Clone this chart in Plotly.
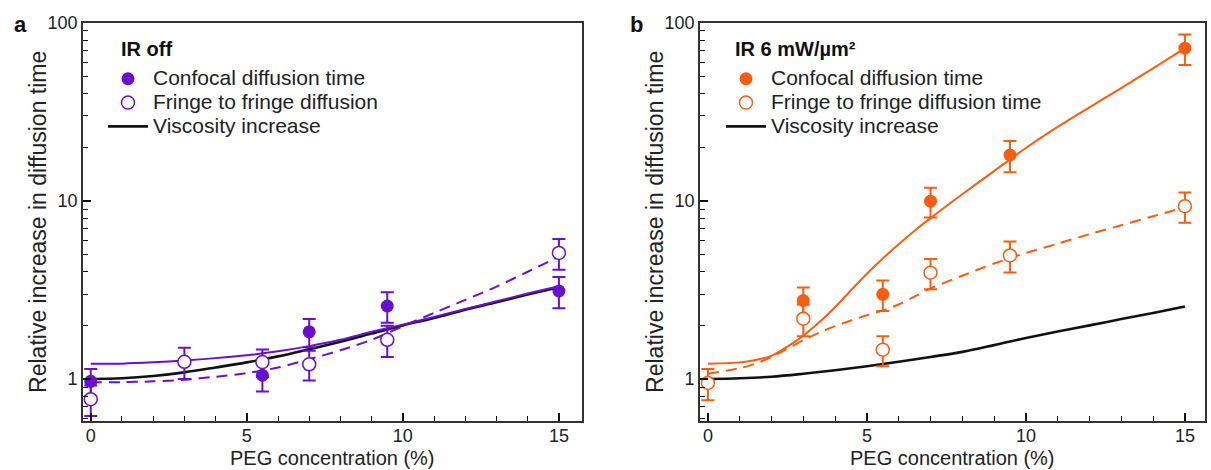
import plotly.graph_objects as go

# ---------------- data ----------------
# Panel a: IR off
a_conf_x = [0, 5.5, 7, 9.5, 15]
a_conf_y = [0.97, 1.05, 1.84, 2.57, 3.12]
a_conf_err = [0.17, 0.20, 0.33, 0.50, 0.62]

a_frin_x = [0, 3, 5.5, 7, 9.5, 15]
a_frin_y = [0.77, 1.25, 1.245, 1.21, 1.66, 5.1]
a_frin_err = [0.15, 0.25, 0.22, 0.23, 0.33, 1.0]

curve_x = [0, 1, 2, 3, 4, 5, 6, 7, 8, 9, 10, 11, 12, 13, 14, 15]
a_visc_y = [1.0, 1.01, 1.04, 1.09, 1.16, 1.24, 1.34, 1.47, 1.62, 1.80, 2.0, 2.2, 2.45, 2.7, 2.98, 3.28]
a_conf_fit = [1.22, 1.22, 1.24, 1.27, 1.31, 1.36, 1.43, 1.53, 1.66, 1.84, 2.02, 2.23, 2.47, 2.73, 3.02, 3.32]
a_frin_fit = [0.96, 0.96, 0.97, 0.99, 1.03, 1.08, 1.16, 1.29, 1.45, 1.66, 1.98, 2.35, 2.78, 3.3, 4.0, 4.86]

# Panel b: IR 6 mW/µm²
b_conf_x = [3, 5.5, 7, 9.5, 15]
b_conf_y = [2.76, 2.99, 9.96, 18.1, 72.0]
b_conf_err = [0.5, 0.58, 1.9, 3.6, 14.0]

b_frin_x = [0, 3, 5.5, 7, 9.5, 15]
b_frin_y = [0.95, 2.18, 1.46, 3.95, 4.94, 9.33]
b_frin_err = [0.19, 0.44, 0.28, 0.76, 0.98, 1.8]

b_visc_y = [1.0, 1.01, 1.03, 1.07, 1.12, 1.18, 1.25, 1.33, 1.42, 1.55, 1.7, 1.85, 2.0, 2.17, 2.35, 2.55]
b_fit_x = [0, 1, 1.5, 2, 2.5, 3, 3.5, 4, 4.5, 5, 5.5, 6, 6.5, 7, 8, 9, 10, 11, 12, 13, 14, 15]
b_conf_fit = [1.22, 1.24, 1.28, 1.35, 1.52, 1.75, 2.08, 2.53, 3.15, 3.9, 4.75, 5.7, 6.8, 8.0, 10.9, 14.7,
              19.8, 26.0, 33.5, 43.0, 55.5, 72.0]
b_frin_fit = [1.07, 1.15, 1.22, 1.33, 1.48, 1.65, 1.82, 1.98, 2.13, 2.28, 2.42, 2.62, 2.9, 3.22, 3.8, 4.45,
              5.1, 5.75, 6.5, 7.3, 8.2, 9.2]

x_ticks = [0, 5, 10, 15]
y_ticks = [1, 10, 100]
y_ticktext = ["1", "10", "100"]

# ---------------- style ----------------
PURPLE = "#6a0fd2"
ORANGE = "#f95d0f"
BLACK = "#111111"
FONT = "Liberation Sans, Arial, sans-serif"
TEXT = "#222222"
W, H = 1211, 470

fig = go.Figure()


def legend_label(s):
    return f"<span style='font-size:21px'>{s}</span>"


def add_panel(xa, ya, legend, color, conf, frin, visc_x, visc_y, fit_x, conf_fit, frin_fit, frin_name):
    cx, cy, ce = conf
    fx, fy, fe = frin
    fig.add_trace(go.Scatter(x=visc_x, y=visc_y, mode="lines",
                             line=dict(color=BLACK, width=2.6, shape="spline"),
                             name=legend_label("Viscosity increase"), legend=legend, legendrank=3,
                             xaxis=xa, yaxis=ya))
    fig.add_trace(go.Scatter(x=fit_x, y=conf_fit, mode="lines",
                             line=dict(color=color, width=2, shape="spline", smoothing=0.8),
                             showlegend=False, xaxis=xa, yaxis=ya))
    fig.add_trace(go.Scatter(x=fit_x, y=frin_fit, mode="lines",
                             line=dict(color=color, width=2, dash="11px,7px", shape="spline", smoothing=0.8),
                             showlegend=False, xaxis=xa, yaxis=ya))
    fig.add_trace(go.Scatter(x=cx, y=cy, mode="markers",
                             marker=dict(symbol="circle", size=13, color=color, line=dict(width=0)),
                             error_y=dict(type="data", array=ce, color=color, thickness=2, width=6.5),
                             name=legend_label("Confocal diffusion time"), legend=legend, legendrank=1,
                             xaxis=xa, yaxis=ya))
    fig.add_trace(go.Scatter(x=fx, y=fy, mode="markers",
                             marker=dict(symbol="circle", size=13, color="white", line=dict(width=1.5, color=color)),
                             error_y=dict(type="data", array=fe, color=color, thickness=2, width=6.5),
                             name=legend_label(frin_name), legend=legend, legendrank=2,
                             xaxis=xa, yaxis=ya))


add_panel("x", "y", "legend", PURPLE,
          (a_conf_x, a_conf_y, a_conf_err), (a_frin_x, a_frin_y, a_frin_err),
          curve_x, a_visc_y, curve_x, a_conf_fit, a_frin_fit, "Fringe to fringe diffusion")
add_panel("x2", "y2", "legend2", ORANGE,
          (b_conf_x, b_conf_y, b_conf_err), (b_frin_x, b_frin_y, b_frin_err),
          curve_x, b_visc_y, b_fit_x, b_conf_fit, b_frin_fit, "Fringe to fringe diffusion time")

minor_y = [0.6, 0.7, 0.8, 0.9] + [v for v in range(2, 10)] + [v * 10 for v in range(2, 10)]

Y_DOMAIN = [0.1064, 0.9723]
X1_DOMAIN = [0.0685, 0.4806]
X2_DOMAIN = [0.578, 0.995]

xaxis_common = dict(
    tickvals=x_ticks, ticks="inside", ticklen=8, tickwidth=1.5, tickcolor=BLACK,
    minor=dict(ticks="inside", ticklen=5, tickwidth=1.2, dtick=1, tickcolor=BLACK),
    showline=True, linewidth=1.5, linecolor="#333333", mirror=True, showgrid=False, zeroline=False,
    tickfont=dict(family=FONT, size=18, color=TEXT), ticklabelstandoff=-2,
)
yaxis_common = dict(
    type="log", range=[-0.236, 2.0], domain=Y_DOMAIN,
    tickvals=y_ticks, ticktext=y_ticktext, ticks="inside", ticklen=8, tickwidth=1.5, tickcolor=BLACK,
    minor=dict(ticks="inside", ticklen=5, tickwidth=1.2, tickvals=minor_y, tickcolor=BLACK),
    showline=True, linewidth=1.5, linecolor="#333333", mirror=True, showgrid=False, zeroline=False,
    tickfont=dict(family=FONT, size=18, color=TEXT),
)

legend_common = dict(
    bgcolor="rgba(0,0,0,0)", borderwidth=0, itemwidth=40, tracegroupgap=0,
    font=dict(family=FONT, size=16, color=TEXT), xanchor="left", yanchor="top",
)

fig.update_layout(
    width=W, height=H, margin=dict(l=0, r=0, t=0, b=0),
    paper_bgcolor="white", plot_bgcolor="white",
    xaxis=dict(domain=X1_DOMAIN, range=[-0.25, 15.74], anchor="y", **xaxis_common),
    yaxis=dict(anchor="x", **yaxis_common),
    xaxis2=dict(domain=X2_DOMAIN, range=[-0.25, 15.63], anchor="y2", **xaxis_common),
    yaxis2=dict(anchor="x2", **yaxis_common),
    legend=dict(x=103 / W, y=1 - 53 / H, **legend_common),
    legend2=dict(x=721 / W, y=1 - 53 / H, **legend_common),
    showlegend=True,
)

# axis titles
y_mid = (Y_DOMAIN[0] + Y_DOMAIN[1]) / 2
for px in (38, 655):
    fig.add_annotation(text="Relative increase in diffusion time", xref="paper", yref="paper",
                       x=px / W, y=y_mid, xanchor="center", yanchor="middle", textangle=-90,
                       showarrow=False, font=dict(family=FONT, size=23, color=TEXT))
for dom in (X1_DOMAIN, X2_DOMAIN):
    fig.add_annotation(text="PEG concentration (%)", xref="paper", yref="paper",
                       x=(dom[0] + dom[1]) / 2, y=0, xanchor="center", yanchor="bottom",
                       showarrow=False, borderpad=0, font=dict(family=FONT, size=20, color=TEXT))

# panel letters and condition headings
for txt, px, py, size in [("a", 12, 15, 22), ("b", 628, 15, 22),
                          ("IR off", 119, 40, 20), ("IR 6 mW/µm²", 733, 40, 20)]:
    fig.add_annotation(text=f"<b>{txt}</b>", xref="paper", yref="paper",
                       x=px / W, y=1 - py / H, xanchor="left", yanchor="middle",
                       showarrow=False, font=dict(family=FONT, size=size, color="#111111"))

fig.write_html("out.html")
